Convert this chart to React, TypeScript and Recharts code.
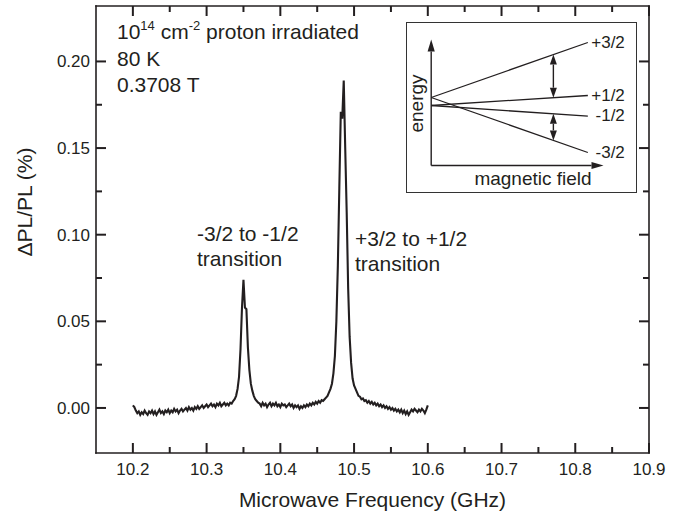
import React from 'react';
import { LineChart, Line, XAxis, YAxis, ReferenceLine, LabelList } from 'recharts';

const INK = '#231f20';
const FONT = '"Liberation Sans", Arial, Helvetica, sans-serif';

// ODMR spectrum, sampled every 2 MHz from 10.200 to 10.600 GHz
const FREQ_START = 10.2;
const FREQ_STEP = 0.002;
const DPL_VALUES = [
  0.0015, 0.0005, -0.0015, -0.003, -0.002, -0.004, -0.0025, -0.0035, -0.0015, -0.003,
  -0.004, -0.002, -0.003, -0.0015, -0.0035, -0.002, -0.004, -0.0025, -0.001, -0.003,
  -0.002, -0.0035, -0.0015, -0.0025, -0.001, -0.003, -0.0015, -0.0025, -0.0005, -0.002,
  -0.001, -0.003, -0.0015, -0.0005, -0.002, -0.001, 0, -0.0015, 0.0005, -0.001,
  0, -0.0015, 0.0005, -0.0005, 0.001, -0.0005, 0.0005, 0.0015, 0, 0.001,
  0.002, 0.0005, 0.0015, 0.0025, 0.001, 0.002, 0.0005, 0.0025, 0.0015, 0.003,
  0.001, 0.002, 0.003, 0.0015, 0.0025, 0.0015, 0.003, 0.0025, 0.004, 0.005,
  0.007, 0.011, 0.018, 0.034, 0.058, 0.074, 0.058, 0.057, 0.035, 0.022,
  0.014, 0.01, 0.007, 0.005, 0.004, 0.003, 0.0025, 0.001, 0.003, 0.0015,
  0.0025, 0.0005, 0.002, 0.003, 0.001, 0.0025, 0.0015, 0.003, 0.001, 0.002,
  0.0005, 0.0025, 0.0015, 0.002, 0.0005, 0.0015, 0.0025, 0.001, 0.002, 0,
  0.0015, 0.0005, 0.0015, -0.0005, 0.001, 0, 0.0015, 0.0005, 0.002, 0.001,
  0.0025, 0.0015, 0.003, 0.002, 0.0035, 0.0025, 0.004, 0.003, 0.0045, 0.004,
  0.005, 0.006, 0.007, 0.009, 0.011, 0.014, 0.02, 0.03, 0.05, 0.082,
  0.127, 0.171, 0.167, 0.189, 0.15, 0.113, 0.069, 0.041, 0.026, 0.017,
  0.013, 0.011, 0.009, 0.007, 0.0065, 0.005, 0.0055, 0.004, 0.0045, 0.003,
  0.004, 0.0025, 0.0035, 0.002, 0.003, 0.0015, 0.0025, 0.001, 0.002, 0.0005,
  0.0015, 0, 0.001, -0.0005, 0.0005, -0.001, 0, -0.0015, -0.0005, -0.002,
  -0.001, -0.0025, -0.001, -0.003, -0.0015, -0.0035, -0.002, -0.004, -0.0025, -0.001,
  -0.002, -0.0005, -0.0015, -0.0025, -0.001, -0.002, -0.0005, -0.0015, -0.003, -0.001,
  0.0015,
];

const X_DOMAIN = [10.15, 10.9];
const Y_DOMAIN = [-0.026, 0.232];
const X_MAJOR = [10.2, 10.3, 10.4, 10.5, 10.6, 10.7, 10.8, 10.9];
const X_MINOR = [10.25, 10.35, 10.45, 10.55, 10.65, 10.75, 10.85];
const Y_MAJOR = [0, 0.05, 0.1, 0.15, 0.2];
const Y_MINOR = [0.025, 0.075, 0.125, 0.175];

// inset: schematic spin levels vs magnetic field
const FIELD = [0, 1];
const LEVEL_P32 = [0.8, 6.3];
const LEVEL_P12 = [0, 1.0];
const LEVEL_M12 = [0, -1.07];
const LEVEL_M32 = [0.8, -4.7];
const TRANSITION_FIELD = 0.78;

const data = DPL_VALUES.map((v, i) => ({ f: FREQ_START + i * FREQ_STEP, v }));
const insetData = FIELD.map((b, i) => ({
  b,
  p32: LEVEL_P32[i],
  p12: LEVEL_P12[i],
  m12: LEVEL_M12[i],
  m32: LEVEL_M32[i],
}));

const levelAt = (level: number[], b: number) =>
  level[0] + ((level[1] - level[0]) * (b - FIELD[0])) / (FIELD[1] - FIELD[0]);

const XLabel = ({ x, y, payload }: any) => (
  <text x={x} y={y + 22} textAnchor="middle" fontSize={17} fill={INK}>
    {payload.value.toFixed(1)}
  </text>
);

const YLabel = ({ x, y, payload }: any) => (
  <text x={x - 6} y={y + 6} textAnchor="end" fontSize={17} fill={INK}>
    {payload.value.toFixed(2)}
  </text>
);

// inward tick stubs at both ends of a full-span reference line
const stubs = (len: number) => (p: any) => {
  const { x1, y1, x2, y2 } = p;
  if (Math.abs(x1 - x2) < 0.01) {
    const lo = Math.min(y1, y2);
    const hi = Math.max(y1, y2);
    return (
      <g>
        <line x1={x1} x2={x1} y1={hi} y2={hi - len} stroke={INK} strokeWidth={2} />
        <line x1={x1} x2={x1} y1={lo} y2={lo + len} stroke={INK} strokeWidth={2} />
      </g>
    );
  }
  const lo = Math.min(x1, x2);
  const hi = Math.max(x1, x2);
  return (
    <g>
      <line x1={lo} x2={lo + len} y1={y1} y2={y1} stroke={INK} strokeWidth={2} />
      <line x1={hi} x2={hi - len} y1={y1} y2={y1} stroke={INK} strokeWidth={2} />
    </g>
  );
};
const MajorStub = stubs(10);
const MinorStub = stubs(6);

const head = (tx: number, ty: number, dx: number, dy: number, len: number, half: number) => {
  const bx = tx - dx * len;
  const by = ty - dy * len;
  return `${tx},${ty} ${bx - dy * half},${by + dx * half} ${bx + dy * half},${by - dx * half}`;
};

const makeArrow = (both: boolean, len: number, half: number) => (p: any) => {
  const { x1, y1, x2, y2 } = p;
  const L = Math.hypot(x2 - x1, y2 - y1) || 1;
  const dx = (x2 - x1) / L;
  const dy = (y2 - y1) / L;
  return (
    <g>
      <line
        x1={both ? x1 + dx * len : x1}
        y1={both ? y1 + dy * len : y1}
        x2={x2 - dx * len}
        y2={y2 - dy * len}
        stroke={INK}
        strokeWidth={1.4}
      />
      <polygon points={head(x2, y2, dx, dy, len, half)} fill={INK} />
      {both && <polygon points={head(x1, y1, -dx, -dy, len, half)} fill={INK} />}
    </g>
  );
};

const AxisArrow = makeArrow(false, 12, 3.6);
const DoubleArrow = makeArrow(true, 10, 3.5);

const levelLabel = (name: string) => (p: any) =>
  p.index === 1 ? (
    <text x={p.x + 37} y={p.y + 5} textAnchor="end" fontSize={17} fill={INK}>
      {name}
    </text>
  ) : null;

const Inset = () => (
  <div
    style={{
      position: 'absolute',
      left: 406,
      top: 22,
      width: 231,
      height: 171,
      border: '1.5px solid #333',
      boxSizing: 'border-box',
      background: '#fff',
    }}
  >
    <LineChart width={228} height={168} data={insetData} margin={{ top: 16.5, right: 31.5, bottom: 25.5, left: 24.2 }}>
      <XAxis type="number" dataKey="b" domain={[0, 1.1]} hide allowDataOverflow />
      <YAxis type="number" domain={[-6, 6.6]} hide allowDataOverflow />
      <ReferenceLine segment={[{ x: 0, y: -6 }, { x: 0, y: 6.6 }]} ifOverflow="visible" shape={AxisArrow} />
      <ReferenceLine segment={[{ x: 0, y: -6 }, { x: 1.1, y: -6 }]} ifOverflow="visible" shape={AxisArrow} />
      <Line dataKey="p32" stroke={INK} strokeWidth={1.3} dot={false} isAnimationActive={false}>
        <LabelList dataKey="p32" content={levelLabel('+3/2')} />
      </Line>
      <Line dataKey="p12" stroke={INK} strokeWidth={1.3} dot={false} isAnimationActive={false}>
        <LabelList dataKey="p12" content={levelLabel('+1/2')} />
      </Line>
      <Line dataKey="m12" stroke={INK} strokeWidth={1.3} dot={false} isAnimationActive={false}>
        <LabelList dataKey="m12" content={levelLabel('-1/2')} />
      </Line>
      <Line dataKey="m32" stroke={INK} strokeWidth={1.3} dot={false} isAnimationActive={false}>
        <LabelList dataKey="m32" content={levelLabel('-3/2')} />
      </Line>
      <ReferenceLine
        segment={[
          { x: TRANSITION_FIELD, y: levelAt(LEVEL_P12, TRANSITION_FIELD) },
          { x: TRANSITION_FIELD, y: levelAt(LEVEL_P32, TRANSITION_FIELD) },
        ]}
        ifOverflow="visible"
        shape={DoubleArrow}
      />
      <ReferenceLine
        segment={[
          { x: TRANSITION_FIELD, y: levelAt(LEVEL_M12, TRANSITION_FIELD) },
          { x: TRANSITION_FIELD, y: levelAt(LEVEL_M32, TRANSITION_FIELD) },
        ]}
        ifOverflow="visible"
        shape={DoubleArrow}
      />
      <text x={16} y={80.5} transform="rotate(-90, 16, 80.5)" textAnchor="middle" fontSize={19} fill={INK}>
        energy
      </text>
      <text x={126} y={161.5} textAnchor="middle" fontSize={19} fill={INK}>
        magnetic field
      </text>
    </LineChart>
  </div>
);

const axisLine = { stroke: INK, strokeWidth: 1.6, strokeLinecap: 'square' as const };

export default function App() {
  return (
    <div style={{ position: 'absolute', left: 0, top: 0, width: 682, height: 517, background: '#fff', fontFamily: FONT }}>
      <LineChart width={682} height={517} data={data} margin={{ top: 6, right: 33, bottom: 0, left: 0 }}>
        <XAxis
          type="number"
          dataKey="f"
          domain={X_DOMAIN}
          ticks={X_MAJOR}
          interval={0}
          height={64}
          tickSize={0}
          tickMargin={0}
          tickLine={false}
          tick={XLabel}
          axisLine={axisLine}
          allowDataOverflow
        />
        <YAxis
          type="number"
          domain={Y_DOMAIN}
          ticks={Y_MAJOR}
          interval={0}
          width={96}
          tickSize={0}
          tickMargin={0}
          tickLine={false}
          tick={YLabel}
          axisLine={axisLine}
          allowDataOverflow
        />
        {/* top and right edges of the frame */}
        <ReferenceLine y={Y_DOMAIN[1]} ifOverflow="visible" stroke={INK} strokeWidth={1.6} strokeLinecap="square" />
        <ReferenceLine x={X_DOMAIN[1]} ifOverflow="visible" stroke={INK} strokeWidth={1.6} strokeLinecap="square" />
        {X_MAJOR.map((v) => (
          <ReferenceLine key={`xM${v}`} x={v} ifOverflow="visible" shape={MajorStub} />
        ))}
        {X_MINOR.map((v) => (
          <ReferenceLine key={`xm${v}`} x={v} ifOverflow="visible" shape={MinorStub} />
        ))}
        {Y_MAJOR.map((v) => (
          <ReferenceLine key={`yM${v}`} y={v} ifOverflow="visible" shape={MajorStub} />
        ))}
        {Y_MINOR.map((v) => (
          <ReferenceLine key={`ym${v}`} y={v} ifOverflow="visible" shape={MinorStub} />
        ))}
        <Line dataKey="v" type="linear" stroke={INK} strokeWidth={2.1} dot={false} isAnimationActive={false} />

        <text x={117} y={39} fontSize={21} fill={INK} style={{ whiteSpace: 'pre' }}>
          10<tspan dy={-9} fontSize={13}>14</tspan>
          <tspan dy={9}> cm</tspan>
          <tspan dy={-9} fontSize={13}>-2</tspan>
          <tspan dy={9}> proton irradiated</tspan>
        </text>
        <text x={117} y={65.5} fontSize={21} fill={INK}>80 K</text>
        <text x={117} y={92} fontSize={21} fill={INK}>0.3708 T</text>

        <text x={197} y={241} fontSize={21} fill={INK}>-3/2 to -1/2</text>
        <text x={197} y={266} fontSize={21} fill={INK}>transition</text>
        <text x={355} y={246} fontSize={21} fill={INK}>+3/2 to +1/2</text>
        <text x={355} y={271} fontSize={21} fill={INK}>transition</text>

        <text x={372.5} y={507} textAnchor="middle" fontSize={21} fill={INK}>
          Microwave Frequency (GHz)
        </text>
        <text x={25} y={202} transform="rotate(-90, 25, 202)" textAnchor="middle" fontSize={21} fill={INK} dy={7}>
          ΔPL/PL (%)
        </text>
      </LineChart>
      <Inset />
    </div>
  );
}
